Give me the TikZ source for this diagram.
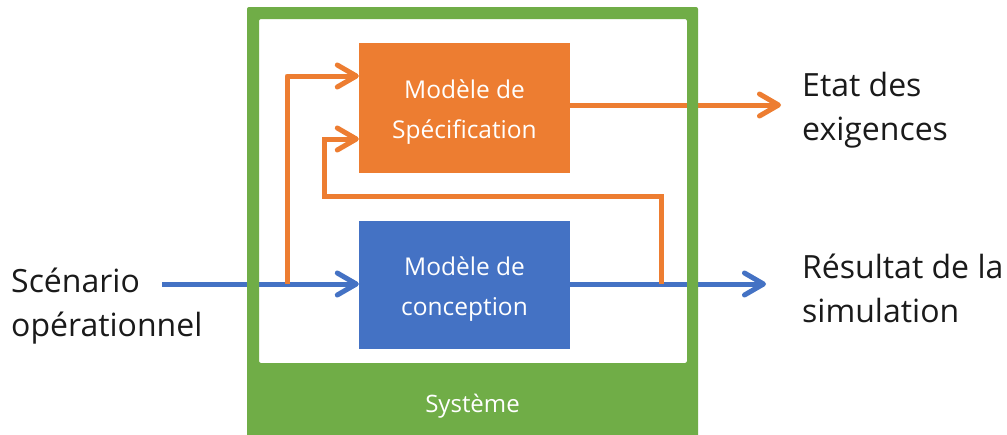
\documentclass[tikz,border=0pt]{standalone}
\usepackage{fontspec}
\setmainfont{Open Sans}
\usetikzlibrary{arrows.meta,calc}
\definecolor{corange}{HTML}{ED7D31}
\definecolor{cblue}{HTML}{4472C4}
\definecolor{cgreen}{HTML}{70AD47}
\definecolor{ctext}{HTML}{1A1A1A}
\tikzset{
  modelbox/.style={draw=none, minimum width=211pt, inner sep=0pt, align=center, text=white,
    font=\fontsize{24.5}{40}\selectfont},
  outlabel/.style={anchor=west, inner sep=0pt, align=left, text=ctext,
    font=\fontsize{32}{44}\selectfont},
  flow/.style={line width=5pt, -{Straight Barb[length=19pt,width=22pt,line cap=round,line join=round]}},
}
\begin{document}
\begin{tikzpicture}[x=1pt,y=-1pt]
\useasboundingbox (0,0) rectangle (1007,434);
\fill[white] (0,0) rectangle (1007,434);
% boxes
\node[modelbox, fill=corange, minimum height=130pt] (spec) at (464.5,108) {};
\node[modelbox, fill=cblue, minimum height=128pt] (design) at (464.5,285) {};
\node[modelbox, anchor=center] (spectxt) at ($(spec.center)+(0,4)$) {Modèle de\\Spécification};
\node[modelbox, anchor=center] (destxt) at ($(design.center)+(0,4)$) {Modèle de\\conception};
% coordinates
\coordinate (inL) at (162,284);
\coordinate (brA) at (287,284);
\coordinate (brB) at (661,284);
\coordinate (fbTop) at (661,196);
\coordinate (fbLeft) at (324,196);
\coordinate (outSpec) at (781,105);
\coordinate (outDes) at (766,284);
% blue flows
\draw[flow, cblue] (inL) -- (design.west |- inL);
\draw[flow, cblue] (design.east |- outDes) -- (outDes);
% orange flows
\draw[flow, corange, line join=round] (brA) |- ($(spec.west)+(0,-32)$);
\draw[flow, corange] (brB) -- (fbTop) -- (fbLeft) |- ($(spec.west)+(0,31)$);
\draw[flow, corange] (spec.east |- outSpec) -- (outSpec);
% system frame
\fill[cgreen, even odd rule, rounded corners=2pt] (247,7) rectangle (698,440) (259,19) rectangle (687,363);
\node[inner sep=0pt, text=white, font=\fontsize{24}{30}\selectfont] (sys) at (472.5,406) {Système};
% labels
\node[outlabel] (scen) at (11,306) {Scénario\\opérationnel};
\node[outlabel] (etat) at (802,110) {Etat des\\exigences};
\node[outlabel] (res) at (802,288) {Résultat de la\\simulation};
\end{tikzpicture}
\end{document}
